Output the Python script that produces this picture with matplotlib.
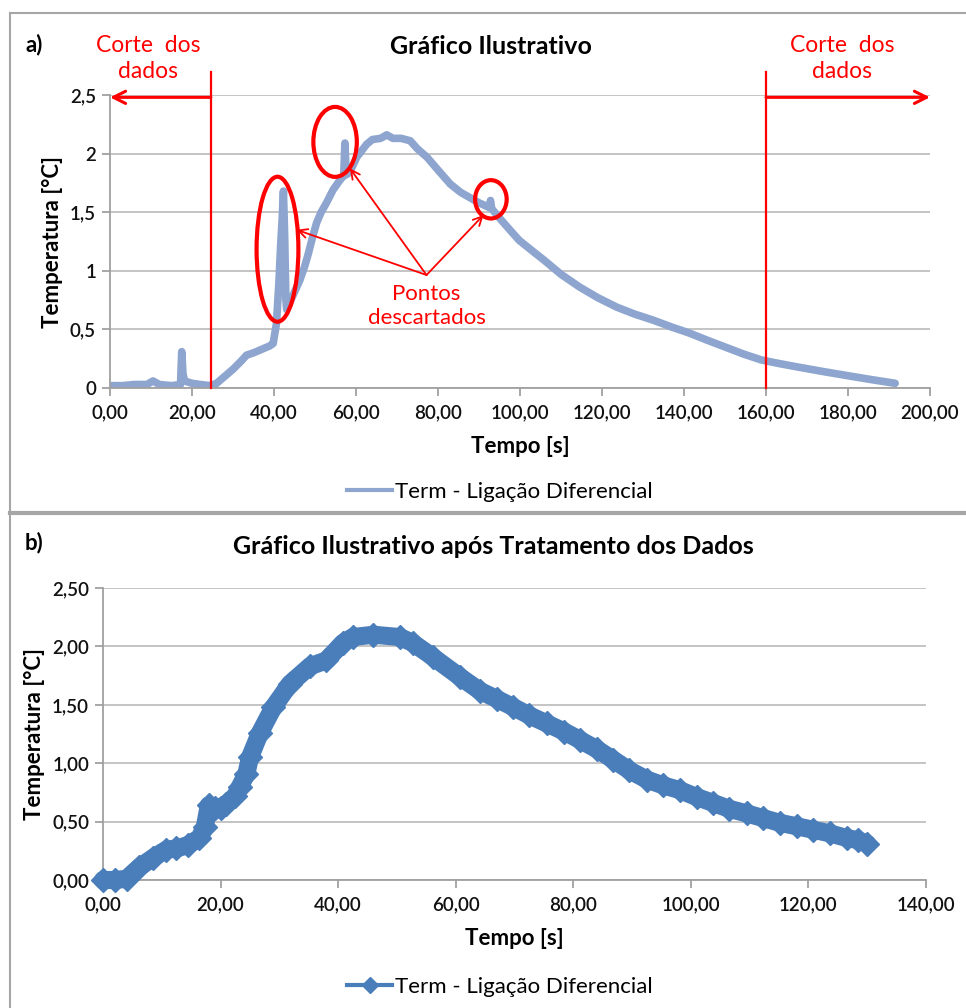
import matplotlib
matplotlib.use("Agg")
import matplotlib.pyplot as plt
from matplotlib.patches import Ellipse
from matplotlib.lines import Line2D

plt.rcParams['font.family'] = ['Lato', 'DejaVu Sans']

# ---------------- data: panel a (raw) ----------------
time_a = [0, 3, 6, 9, 10.5, 12, 15, 17.2, 17.5, 17.8, 18.2, 20, 22, 24.5,
          26, 28, 30, 32, 33.3, 35, 37, 39, 39.8, 40.6, 41.2, 41.6, 42.0,
          42.3, 42.6, 42.9, 43.1, 44.5, 46.3, 47.5, 48.4, 49.5, 50.4, 51.5,
          52.8, 54.4, 56, 57.0, 57.3, 57.6, 58.1, 59, 60.2, 62.6, 64, 66,
          67.5, 69, 71, 73.2, 75, 77.3, 80, 83, 85.5, 88, 90, 92.5, 92.8,
          93.1, 95, 97.5, 99.8, 103, 105.9, 110, 114.6, 119, 123.6, 128,
          132.4, 137, 141.2, 145.5, 150, 154.5, 158.8, 163, 167.6, 174,
          180.8, 186, 191.5]
temp_a = [0.02, 0.02, 0.03, 0.03, 0.06, 0.03, 0.02, 0.03, 0.31, 0.12, 0.06,
          0.04, 0.03, 0.02, 0.04, 0.10, 0.16, 0.23, 0.28, 0.30, 0.33, 0.36,
          0.38, 0.55, 0.90, 1.20, 1.45, 1.68, 1.30, 0.75, 0.67, 0.78, 0.92,
          1.04, 1.15, 1.30, 1.41, 1.50, 1.58, 1.69, 1.77, 1.81, 2.09, 1.82,
          1.83, 1.88, 1.97, 2.08, 2.12, 2.13, 2.16, 2.13, 2.13, 2.11, 2.04,
          1.97, 1.86, 1.74, 1.67, 1.62, 1.58, 1.54, 1.60, 1.53, 1.45, 1.35,
          1.26, 1.17, 1.09, 0.97, 0.86, 0.77, 0.69, 0.63, 0.58, 0.52, 0.47,
          0.41, 0.35, 0.29, 0.24, 0.21, 0.18, 0.14, 0.10, 0.07, 0.04]

# ---------------- data: panel b (treated) ----------------
time_b = [0, 2, 4, 6.2, 8.5, 10.8, 12.5, 14.5, 16.4, 17.3, 18.0, 19.0, 20.0,
          21.0, 22.5, 23.3, 24.4, 25, 26.7, 29, 31.8, 35.2, 38, 40.8, 42.5,
          46, 50.5, 52.7, 56.1, 60.7, 64.1, 67, 69.8, 72.5, 75.5, 78.5, 81.1,
          84, 86.8, 89.5, 92.5, 95.3, 98.1, 101, 103.8, 106.5, 109.5, 112.3,
          115.1, 118, 120.8, 123.6, 126.5, 128.5, 130]
temp_b = [0.0, 0.0, 0.01, 0.11, 0.19, 0.26, 0.27, 0.30, 0.36, 0.45, 0.64,
          0.62, 0.62, 0.65, 0.72, 0.80, 0.91, 1.05, 1.26, 1.48, 1.68, 1.83,
          1.88, 2.03, 2.08, 2.10, 2.08, 2.03, 1.91, 1.74, 1.62, 1.55, 1.48,
          1.41, 1.34, 1.27, 1.20, 1.12, 1.03, 0.94, 0.86, 0.81, 0.77, 0.71,
          0.66, 0.61, 0.57, 0.53, 0.49, 0.46, 0.43, 0.40, 0.36, 0.34, 0.31]

xticks_a = [0, 20, 40, 60, 80, 100, 120, 140, 160, 180, 200]
yticks_a = [0, 0.5, 1, 1.5, 2, 2.5]
ytick_labels_a = ["0", "0,5", "1", "1,5", "2", "2,5"]
xticks_b = [0, 20, 40, 60, 80, 100, 120, 140]
yticks_b = [0, 0.5, 1.0, 1.5, 2.0, 2.5]

cut_left, cut_right = 24.6, 160
series_name = "Term - Ligação Diferencial"

W, H = 966, 1008
fig = plt.figure(figsize=(W / 100, H / 100), dpi=100)


def fx(x):
    return x / W


def fy(y):
    return 1 - y / H


def axes_px(l, t, r, b):
    return fig.add_axes([fx(l), fy(b), (r - l) / W, (b - t) / H])


# panel frames
frame_col = "#A6A6A6"
fig.add_artist(Line2D([fx(10), fx(10)], [fy(13), fy(1008)], color=frame_col, lw=1.5))
fig.add_artist(Line2D([fx(10), 1], [fy(13), fy(13)], color=frame_col, lw=1.5))
fig.add_artist(Line2D([fx(10), 1], [fy(512.5), fy(512.5)], color=frame_col, lw=3))

grid_col = "#BFBFBF"
col_a = "#8EA6CF"
col_b = "#4A7EBB"
TICK_FS = 13.5
LAB_FS = 16


def style_axes(ax):
    for s in ["top", "right"]:
        ax.spines[s].set_visible(False)
    for s in ["left", "bottom"]:
        ax.spines[s].set_color("#A0A0A0")
        ax.spines[s].set_linewidth(1.3)
    ax.yaxis.grid(True, color=grid_col, lw=1.3)
    ax.set_axisbelow(True)
    ax.tick_params(axis="both", direction="out", length=6, width=1.3,
                   color="#A0A0A0", labelsize=TICK_FS, labelcolor="#111111")
    ax.tick_params(axis="x", pad=6)
    ax.tick_params(axis="y", pad=4)
    for lab in ax.get_xticklabels() + ax.get_yticklabels():
        lab.set_fontweight(600)


# ---------------- panel a ----------------
ax1 = axes_px(110, 95, 930, 388)
ax1.plot(time_a, temp_a, color=col_a, lw=5.5, solid_joinstyle="round",
         solid_capstyle="round")
ax1.set_xlim(0, 200)
ax1.set_ylim(0, 2.5)
ax1.set_xticks(xticks_a)
ax1.set_xticklabels([f"{v:.2f}".replace(".", ",") for v in xticks_a])
ax1.set_yticks(yticks_a)
ax1.set_yticklabels(ytick_labels_a)
style_axes(ax1)
ax1.set_xlabel("Tempo [s]", fontsize=LAB_FS, fontweight="bold", labelpad=10)
ax1.set_ylabel("Temperatura [°C]", fontsize=LAB_FS, fontweight="bold", labelpad=5)

red = "#FF0000"
for xc in (cut_left, cut_right):
    ax1.plot([xc, xc], [0, 2.70], color=red, lw=1.6, clip_on=False, zorder=5)
ax1.annotate("", xy=(0, 2.48), xytext=(cut_left, 2.48),
             arrowprops=dict(arrowstyle="->", color=red, lw=2.2,
                             mutation_scale=22, shrinkA=0, shrinkB=0),
             annotation_clip=False)
ax1.annotate("", xy=(200, 2.48), xytext=(cut_right, 2.48),
             arrowprops=dict(arrowstyle="->", color=red, lw=2.2,
                             mutation_scale=22, shrinkA=0, shrinkB=0),
             annotation_clip=False)
ax1.text(9.3, 2.81, "Corte  dos\ndados", color=red, fontsize=16.5, ha="center",
         va="center", linespacing=1.3, clip_on=False)
ax1.text(178.5, 2.81, "Corte  dos\ndados", color=red, fontsize=16.5, ha="center",
         va="center", linespacing=1.3, clip_on=False)

for (cx, cy, w, h) in [(40.85, 1.184, 10.2, 1.237), (54.9, 2.10, 10.6, 0.597),
                       (92.9, 1.61, 7.7, 0.327)]:
    ax1.add_patch(Ellipse((cx, cy), w, h, fill=False, edgecolor=red, lw=3,
                          zorder=6, clip_on=False))

src = (77.2, 0.964)
for tgt in [(45.5, 1.35), (58.5, 1.875), (91.1, 1.476)]:
    ax1.annotate("", xy=tgt, xytext=src,
                 arrowprops=dict(arrowstyle="->", color=red, lw=1.3,
                                 mutation_scale=16, shrinkA=0, shrinkB=0),
                 zorder=7)
ax1.text(77.2, 0.70, "Pontos\ndescartados", color=red, fontsize=16,
         ha="center", va="center", linespacing=1.2)

fig.text(fx(25), fy(45), "a)", fontsize=16, fontweight="bold", va="center")
fig.text(fx(491), fy(47), "Gráfico Ilustrativo", fontsize=18, fontweight="bold",
         ha="center", va="center")

leg_a = Line2D([0], [0], color=col_a, lw=3)
fig.legend([leg_a], [series_name], loc="center", bbox_to_anchor=(fx(500), fy(492)),
           frameon=False, fontsize=16, handlelength=2.0, handletextpad=0.15)

# ---------------- panel b ----------------
ax2 = axes_px(103, 588, 926, 880)
ax2.plot(time_b, temp_b, color=col_b, lw=13, marker="D", ms=12,
         markeredgecolor=col_b, solid_joinstyle="round", solid_capstyle="round",
         clip_on=False, zorder=3)
ax2.set_xlim(0, 140)
ax2.set_ylim(0, 2.5)
ax2.set_xticks(xticks_b)
ax2.set_xticklabels([f"{v:.2f}".replace(".", ",") for v in xticks_b])
ax2.set_yticks(yticks_b)
ax2.set_yticklabels([f"{v:.2f}".replace(".", ",") for v in yticks_b])
style_axes(ax2)
ax2.set_xlabel("Tempo [s]", fontsize=LAB_FS, fontweight="bold", labelpad=10)
ax2.set_ylabel("Temperatura [°C]", fontsize=LAB_FS, fontweight="bold", labelpad=5)

fig.text(fx(25), fy(543), "b)", fontsize=16, fontweight="bold", va="center")
fig.text(fx(493), fy(546), "Gráfico Ilustrativo após Tratamento dos Dados",
         fontsize=18, fontweight="bold", ha="center", va="center")

leg_b = Line2D([0], [0], color=col_b, lw=3, marker="D", ms=8)
fig.legend([leg_b], [series_name], loc="center", bbox_to_anchor=(fx(500), fy(987)),
           frameon=False, fontsize=16, handlelength=2.0, handletextpad=0.15)

fig.savefig("out.png", dpi=100, facecolor="white")
